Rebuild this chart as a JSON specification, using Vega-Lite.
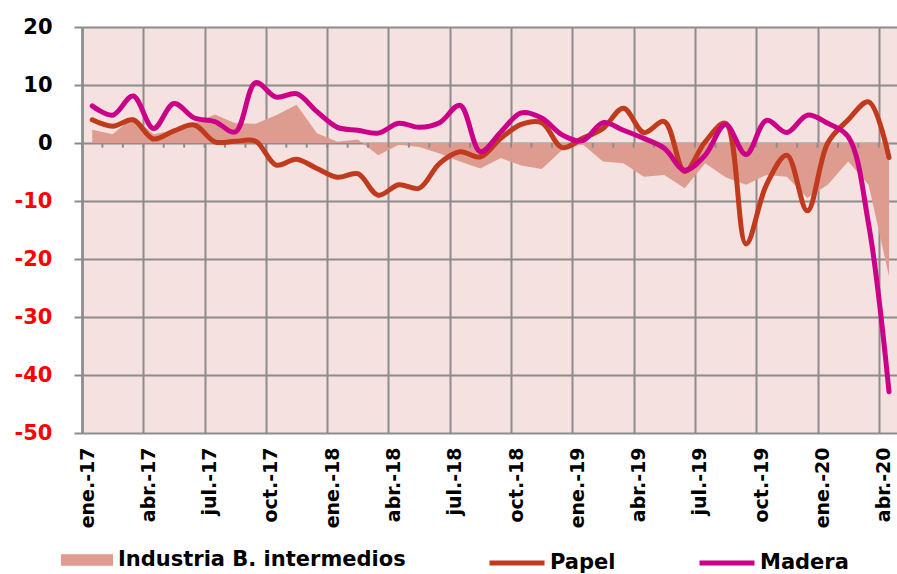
{
  "$schema": "https://vega.github.io/schema/vega-lite/v6.json",
  "width": 815,
  "height": 406,
  "autosize": {"type": "none"},
  "padding": {"left": 82, "top": 27, "right": 0, "bottom": 141},
  "background": "white",
  "config": {
    "view": {"stroke": null, "fill": "#F5E1DF"},
    "axis": {"gridColor": "#8C8C8C", "gridWidth": 2, "gridOpacity": 1, "labelFont": "DejaVu Sans", "labelFontWeight": "bold"},
    "legend": {"labelFont": "DejaVu Sans", "labelFontWeight": "bold", "labelFontSize": 21, "labelColor": "black", "padding": 0, "labelLimit": 0}
  },
  "resolve": {"axis": {"y": "independent"}},
  "data": {
    "values": [
      {"i": 0, "mes": "ene.-17", "ind": 2.3, "papel": 4.0, "madera": 6.4},
      {"i": 1, "mes": "feb.-17", "ind": 1.5, "papel": 2.9, "madera": 4.8},
      {"i": 2, "mes": "mar.-17", "ind": 4.5, "papel": 4.0, "madera": 8.1},
      {"i": 3, "mes": "abr.-17", "ind": 1.5, "papel": 0.7, "madera": 2.5},
      {"i": 4, "mes": "may.-17", "ind": 2.2, "papel": 2.1, "madera": 6.8},
      {"i": 5, "mes": "jun.-17", "ind": 3.4, "papel": 3.1, "madera": 4.3},
      {"i": 6, "mes": "jul.-17", "ind": 4.9, "papel": 0.2, "madera": 3.7},
      {"i": 7, "mes": "ago.-17", "ind": 3.4, "papel": 0.3, "madera": 1.9},
      {"i": 8, "mes": "sep.-17", "ind": 3.3, "papel": 0.3, "madera": 10.4},
      {"i": 9, "mes": "oct.-17", "ind": 4.8, "papel": -3.8, "madera": 7.9},
      {"i": 10, "mes": "nov.-17", "ind": 6.6, "papel": -2.8, "madera": 8.5},
      {"i": 11, "mes": "dic.-17", "ind": 1.7, "papel": -4.4, "madera": 5.4},
      {"i": 12, "mes": "ene.-18", "ind": 0.2, "papel": -5.9, "madera": 2.7},
      {"i": 13, "mes": "feb.-18", "ind": 0.6, "papel": -5.3, "madera": 2.2},
      {"i": 14, "mes": "mar.-18", "ind": -2.1, "papel": -9.0, "madera": 1.7},
      {"i": 15, "mes": "abr.-18", "ind": -0.3, "papel": -7.2, "madera": 3.4},
      {"i": 16, "mes": "may.-18", "ind": -0.7, "papel": -7.8, "madera": 2.7},
      {"i": 17, "mes": "jun.-18", "ind": -1.8, "papel": -3.5, "madera": 3.5},
      {"i": 18, "mes": "jul.-18", "ind": -3.2, "papel": -1.5, "madera": 6.5},
      {"i": 19, "mes": "ago.-18", "ind": -4.4, "papel": -2.4, "madera": -1.5},
      {"i": 20, "mes": "sep.-18", "ind": -2.6, "papel": 0.8, "madera": 1.9},
      {"i": 21, "mes": "oct.-18", "ind": -3.9, "papel": 3.2, "madera": 5.2},
      {"i": 22, "mes": "nov.-18", "ind": -4.5, "papel": 3.5, "madera": 4.3},
      {"i": 23, "mes": "dic.-18", "ind": -1.2, "papel": -0.8, "madera": 1.4},
      {"i": 24, "mes": "ene.-19", "ind": -0.2, "papel": 0.8, "madera": 0.4},
      {"i": 25, "mes": "feb.-19", "ind": -3.2, "papel": 2.5, "madera": 3.5},
      {"i": 26, "mes": "mar.-19", "ind": -3.5, "papel": 6.0, "madera": 2.2},
      {"i": 27, "mes": "abr.-19", "ind": -5.8, "papel": 1.8, "madera": 0.8},
      {"i": 28, "mes": "may.-19", "ind": -5.5, "papel": 3.7, "madera": -0.9},
      {"i": 29, "mes": "jun.-19", "ind": -7.8, "papel": -4.9, "madera": -4.7},
      {"i": 30, "mes": "jul.-19", "ind": -3.5, "papel": 0.2, "madera": -2.1},
      {"i": 31, "mes": "ago.-19", "ind": -5.9, "papel": 3.4, "madera": 3.2},
      {"i": 32, "mes": "sep.-19", "ind": -7.2, "papel": -17.4, "madera": -2.0},
      {"i": 33, "mes": "oct.-19", "ind": -5.5, "papel": -7.2, "madera": 3.9},
      {"i": 34, "mes": "nov.-19", "ind": -5.8, "papel": -2.1, "madera": 1.8},
      {"i": 35, "mes": "dic.-19", "ind": -9.5, "papel": -11.7, "madera": 4.8},
      {"i": 36, "mes": "ene.-20", "ind": -7.2, "papel": 0.0, "madera": 3.4},
      {"i": 37, "mes": "feb.-20", "ind": -3.2, "papel": 4.0, "madera": 1.1},
      {"i": 38, "mes": "mar.-20", "ind": -7.2, "papel": 7.1, "madera": -14.0},
      {"i": 39, "mes": "abr.-20", "ind": -23.0, "papel": -2.5, "madera": -42.9}
    ]
  },
  "layer": [
    {
      "mark": {"type": "area", "interpolate": "linear"},
      "encoding": {
        "x": {
          "field": "i", "type": "quantitative",
          "scale": {"domain": [-0.5, 39.39], "nice": false, "zero": false},
          "axis": {
            "title": null, "domain": false, "ticks": false, "tickSize": 0, "grid": true,
            "values": [-0.5, 2.5, 5.5, 8.5, 11.5, 14.5, 17.5, 20.5, 23.5, 26.5, 29.5, 32.5, 35.5, 38.5],
            "labelExpr": "['ene.-17','abr.-17','jul.-17','oct.-17','ene.-18','abr.-18','jul.-18','oct.-18','ene.-19','abr.-19','jul.-19','oct.-19','ene.-20','abr.-20'][round((datum.value + 0.5) / 3)]",
            "labelAngle": 270, "labelAlign": "right", "labelBaseline": "middle",
            "labelPadding": 14, "labelOffset": 5, "labelFontSize": 19, "labelColor": "black",
            "labelOverlap": false, "labelBound": false, "labelFlush": false
          }
        },
        "y": {
          "field": "ind", "type": "quantitative",
          "scale": {"domain": [-50, 20], "nice": false, "zero": false},
          "axis": {
            "orient": "left", "title": null, "values": [0, 10, 20],
            "labelExpr": "'' + datum.value",
            "domain": true, "domainColor": "#8C8C8C", "domainWidth": 2,
            "ticks": true, "tickColor": "#8C8C8C", "tickWidth": 2, "tickSize": 8,
            "grid": true, "labelPadding": 22, "labelFontSize": 21, "labelColor": "#000000",
            "labelOverlap": false, "labelFlush": false
          }
        },
        "fill": {
          "datum": "Industria B. intermedios",
          "scale": {"range": ["#DE9B8F"]},
          "legend": {
            "orient": "none", "legendX": -21, "legendY": 507, "title": null,
            "symbolType": "M-1,-0.22H1V0.22H-1Z", "symbolSize": 2704,
            "symbolStrokeWidth": 0, "symbolOpacity": 1, "labelOffset": 5, "labelLimit": 0
          }
        }
      }
    },
    {
      "mark": {"type": "rule", "xOffset": -10.2, "color": "#8C8C8C", "strokeWidth": 2},
      "encoding": {
        "x": {"field": "i", "type": "quantitative"},
        "y": {"datum": 0, "axis": null},
        "y2": {"datum": -0.8}
      }
    },
    {
      "transform": [{"fold": ["papel", "madera"], "as": ["serie", "valor"]}],
      "mark": {"type": "line", "interpolate": "catmull-rom", "strokeWidth": 5, "strokeCap": "round"},
      "encoding": {
        "x": {"field": "i", "type": "quantitative"},
        "y": {
          "field": "valor", "type": "quantitative",
          "axis": {
            "orient": "left", "title": null, "values": [-50, -40, -30, -20, -10],
            "labelExpr": "'' + datum.value",
            "domain": true, "domainColor": "#8C8C8C", "domainWidth": 2,
            "ticks": true, "tickColor": "#8C8C8C", "tickWidth": 2, "tickSize": 8,
            "grid": true, "labelPadding": 22, "labelFontSize": 21, "labelColor": "#FF0000",
            "labelOverlap": false, "labelFlush": false
          }
        },
        "stroke": {
          "field": "serie", "type": "nominal",
          "scale": {"domain": ["papel", "madera"], "range": ["#C03A1E", "#CC0088"]},
          "legend": {
            "orient": "none", "direction": "horizontal", "legendX": 405, "legendY": 506, "title": null,
            "labelExpr": "datum.value == 'papel' ? 'Papel' : 'Madera'",
            "symbolType": "stroke", "symbolSize": 3025, "symbolStrokeWidth": 5,
            "labelOffset": 3, "columnPadding": 73
          }
        }
      }
    }
  ]
}
